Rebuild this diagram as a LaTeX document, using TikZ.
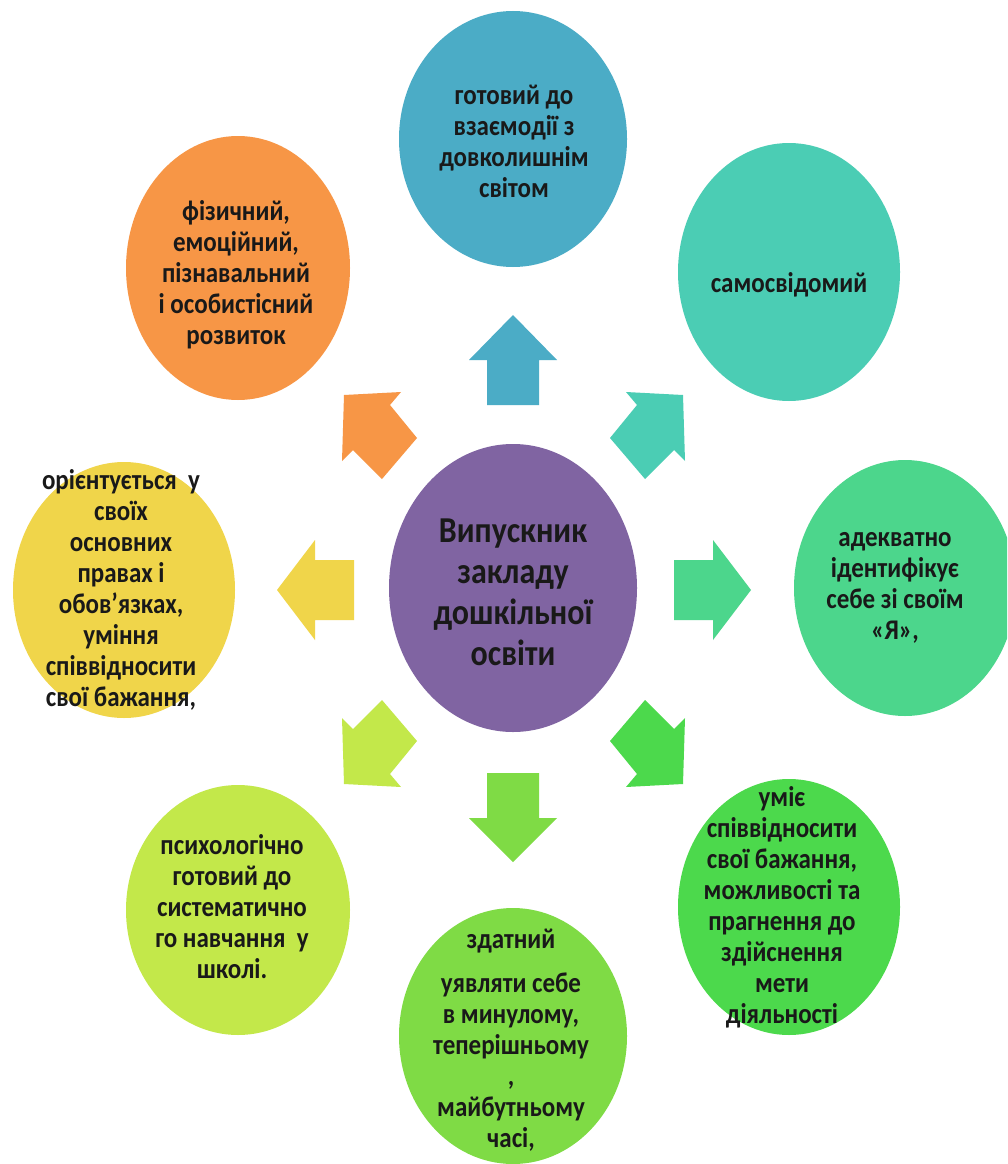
\documentclass[tikz,border=0pt]{standalone}
\usepackage{fontspec}
\setmainfont{Carlito}
\usetikzlibrary{shapes.geometric}
\definecolor{cblue}{HTML}{4BACC6}
\definecolor{corange}{HTML}{F79646}
\definecolor{cteal}{HTML}{4BCDB4}
\definecolor{cgreenR}{HTML}{4CD68C}
\definecolor{cgreenLR}{HTML}{4CD94C}
\definecolor{cgreenB}{HTML}{7FDB45}
\definecolor{clime}{HTML}{C3E84A}
\definecolor{cyellow}{HTML}{F0D54A}
\definecolor{cpurple}{HTML}{8064A2}
\begin{document}
\begin{tikzpicture}[x=1pt,y=-1pt,
  bub/.style={ellipse, inner sep=0pt, draw=none},
  lbl/.style={align=center, inner sep=0pt, text=black!90,
    font=\bfseries\fontsize{25}{27.2}\selectfont, yscale=1.14, transform shape},
  mainlbl/.style={align=center, inner sep=0pt, text=black!90,
    font=\bfseries\fontsize{32}{36}\selectfont, yscale=1.14, transform shape}]
\useasboundingbox (0,0) rectangle (1007,1164);
\clip (0,0) rectangle (1007,1164);
\fill[white] (0,0) rectangle (1007,1164);

% bubbles
\node[bub, fill=cblue, minimum width=228pt, minimum height=256pt] (top) at (513,139) {};
\node[bub, fill=corange, minimum width=224pt, minimum height=264pt] (ul) at (238,268) {};
\node[bub, fill=cteal, minimum width=222pt, minimum height=258pt] (ur) at (789,272) {};
\node[bub, fill=cyellow, minimum width=222pt, minimum height=256pt] (le) at (124,590) {};
\node[bub, fill=cgreenR, minimum width=222pt, minimum height=256pt] (ri) at (905,588) {};
\node[bub, fill=cpurple, minimum width=248pt, minimum height=288pt] (ce) at (513,588) {};
\node[bub, fill=clime, minimum width=224pt, minimum height=250pt] (ll) at (238,910) {};
\node[bub, fill=cgreenLR, minimum width=222pt, minimum height=256pt] (lr) at (789,907) {};
\node[bub, fill=cgreenB, minimum width=228pt, minimum height=256pt] (bo) at (513,1036) {};

% straight arrows
\fill[cblue] (487,405) -- (487,360) -- (469,360) -- (513,315) -- (557,360) -- (539,360) -- (539,405) -- cycle;
\fill[cgreenB] (487,773) -- (487,818) -- (469,818) -- (513,862) -- (557,818) -- (539,818) -- (539,773) -- cycle;
\fill[cyellow] (354,560) -- (315,560) -- (315,540) -- (277,590) -- (315,640) -- (315,620) -- (354,620) -- cycle;
\fill[cgreenR] (674,560) -- (713,560) -- (713,540) -- (751,590) -- (713,640) -- (713,620) -- (674,620) -- cycle;

% diagonal arrows
\fill[corange] (344,395) -- (401,392) -- (390,405) -- (417,438) -- (382,479) -- (353,450) -- (342,461) -- cycle;
\fill[cteal] (683,395) -- (626,392) -- (637,405) -- (610,438) -- (645,479) -- (674,450) -- (685,461) -- cycle;
\fill[clime] (344,784) -- (401,787) -- (390,774) -- (417,741) -- (382,700) -- (353,729) -- (342,718) -- cycle;
\fill[cgreenLR] (683,784) -- (626,787) -- (637,774) -- (610,741) -- (645,700) -- (674,729) -- (685,718) -- cycle;

% labels
\node[mainlbl] (tce) at (513,592) {Випускник\\закладу\\дошкільної\\освіти};
\node[lbl] (ttop) at (514,141) {готовий до\\взаємодії з\\довколишнім\\світом};
\node[lbl] (tul) at (236,275) {фізичний,\\емоційний,\\пізнавальний\\і особистісний\\розвиток};
\node[lbl] (tur) at (789,285) {самосвідомий};
\node[lbl] (tle) at (121,590) {орієнтується \ у\\своїх\\основних\\правах і\\обов’язках,\\уміння\\співвідносити\\свої бажання,};
\node[lbl] (tri) at (895,588) {адекватно\\ідентифікує\\себе зі своїм\\«Я»,};
\node[lbl] (tll) at (232,907) {психологічно\\готовий до\\систематично\\го навчання \ у\\школі.};
\node[lbl] (tlr) at (782,907) {уміє\\співвідносити\\свої бажання,\\можливості та\\прагнення до\\здійснення\\мети\\діяльності};
\node[lbl] (tbo) at (511,1040) {здатний\\[11pt]уявляти себе\\в минулому,\\теперішньому\\,\\майбутньому\\часі,};
\end{tikzpicture}
\end{document}
